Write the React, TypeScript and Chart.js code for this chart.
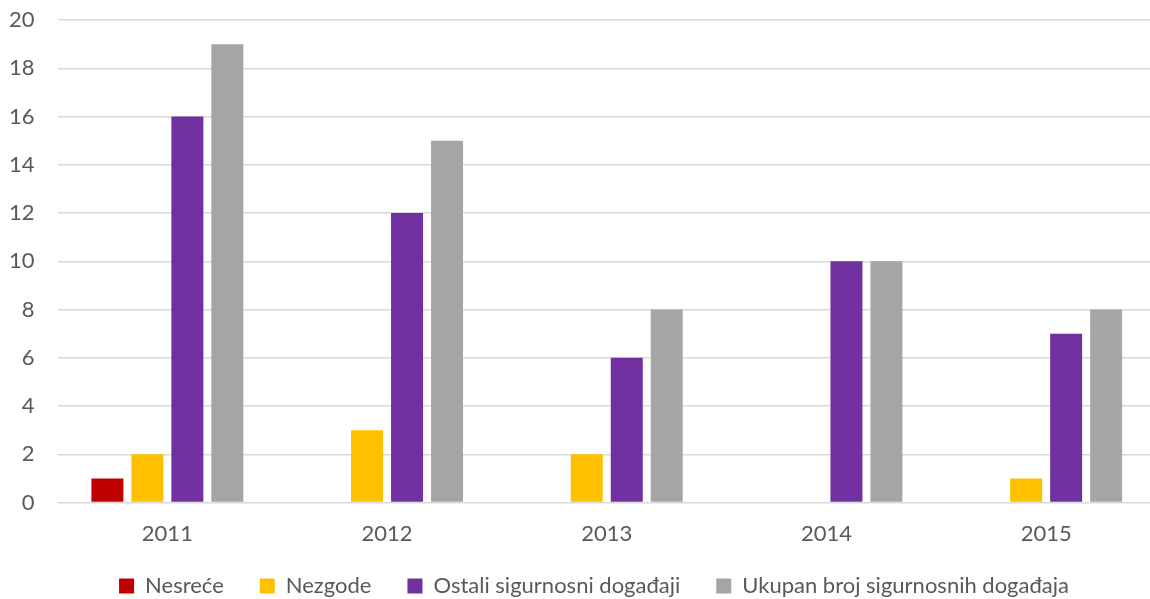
import React, { useEffect, useRef } from "react";
import { Chart, registerables } from "chart.js";

Chart.register(...registerables);

const categories = ["2011", "2012", "2013", "2014", "2015"];
const nesrece = [1, 0, 0, 0, 0];
const nezgode = [2, 3, 2, 0, 1];
const ostali = [16, 12, 6, 10, 7];
const ukupan = [19, 15, 8, 10, 8];
const seriesNames = [
  "Nesreće",
  "Nezgode",
  "Ostali sigurnosni događaji",
  "Ukupan broj sigurnosnih događaja",
];
const seriesColors = ["#C00000", "#FFC000", "#7030A0", "#A5A5A5"];

const FONT = "Lato, 'Liberation Sans', sans-serif";
const TEXT = "#595959";
const LEGEND_PAD = 36;

// place the legend so its text row is centred where the reference has it
const legendPlace = {
  id: "legendPlace",
  afterLayout(chart: any) {
    const lg = chart.legend;
    if (!lg) return;
    const w = lg.right - lg.left;
    const h = lg.bottom - lg.top;
    lg.left = 594 - w / 2;
    lg.right = lg.left + w;
    lg.top = 586 - LEGEND_PAD - 11;
    lg.bottom = lg.top + h;
  },
};

export default function App() {
  const ref = useRef<HTMLCanvasElement | null>(null);

  useEffect(() => {
    if (!ref.current) return;
    const values = [nesrece, nezgode, ostali, ukupan];
    const chart = new Chart(ref.current, {
      type: "bar",
      data: {
        labels: categories,
        datasets: values.map((v, i) => ({
          label: seriesNames[i],
          data: v,
          backgroundColor: seriesColors[i],
          borderWidth: 0,
          barPercentage: 0.8,
          categoryPercentage: 0.728,
        })),
      },
      options: {
        animation: false,
        responsive: false,
        devicePixelRatio: 1,
        layout: { padding: { left: 9, right: 0, top: 20, bottom: 0 } },
        plugins: {
          legend: {
            position: "bottom",
            labels: {
              boxWidth: 15,
              boxHeight: 15,
              padding: LEGEND_PAD,
              color: TEXT,
              font: { family: FONT, size: 22 },
            },
          },
          tooltip: { enabled: false },
        },
        scales: {
          x: {
            grid: { display: false, drawTicks: true, tickLength: 18 },
            border: { display: false },
            ticks: {
              color: TEXT,
              font: { family: FONT, size: 22 },
              padding: 0,
            },
          },
          y: {
            min: 0,
            max: 20,
            ticks: {
              stepSize: 2,
              color: TEXT,
              font: { family: FONT, size: 22 },
              padding: 0,
            },
            grid: {
              color: "#D9D9D9",
              lineWidth: 1.5,
              drawTicks: true,
              tickLength: 23,
              tickColor: "rgba(0,0,0,0)",
            },
            border: { display: false },
          },
        },
      },
      plugins: [legendPlace],
    });
    return () => chart.destroy();
  }, []);

  return (
    <div
      style={{
        position: "fixed",
        left: 0,
        top: 0,
        width: 1150,
        height: 599,
        overflow: "hidden",
        background: "#fff",
      }}
    >
      <canvas ref={ref} width={1156} height={615} style={{ display: "block" }} />
    </div>
  );
}
